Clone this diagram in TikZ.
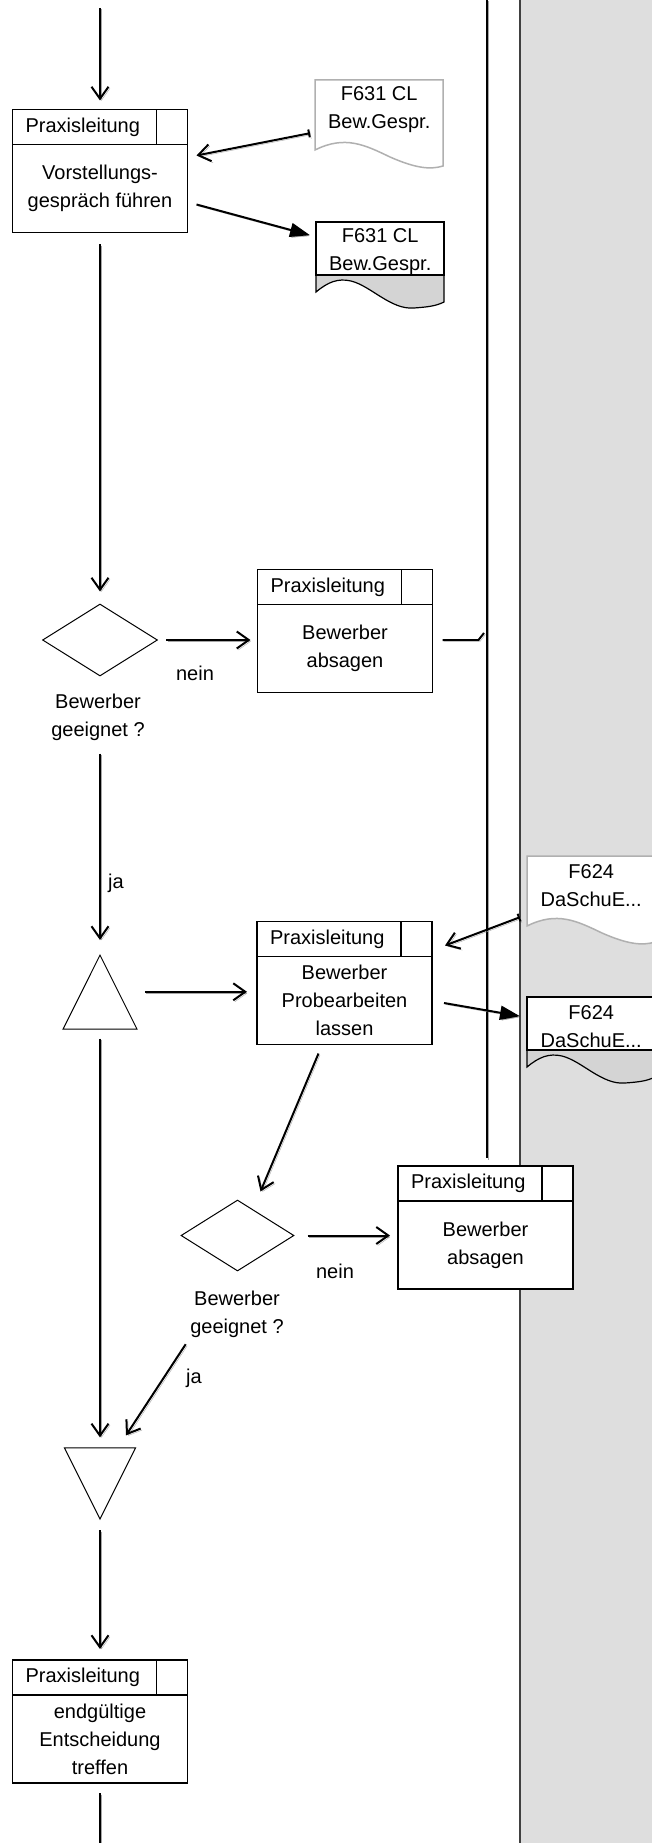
\documentclass[tikz,border=0pt]{standalone}
\usepackage{fontspec}
\setmainfont{Liberation Sans}
\usetikzlibrary{shapes.geometric,arrows.meta,calc}
\definecolor{lanegrey}{HTML}{DEDEDE}
\definecolor{docgrey}{HTML}{D4D4D4}
\definecolor{docline}{HTML}{B0B0B0}

\begin{document}
\begin{tikzpicture}[x=1pt,y=-1pt]
	\tikzset{every node/.style={font=\fontsize{20pt}{28pt}\selectfont,inner sep=0pt,align=center}}
	\tikzset{taskbody/.style={draw,line width=1.2pt,fill=white,outer sep=0pt,minimum width=175pt,minimum height=88pt}}
	\tikzset{taskhead/.style={draw,line width=1.2pt,fill=white,outer sep=0pt,anchor=south west,minimum height=35pt,text width=118pt,inner xsep=13pt,align=left}}
	\tikzset{taskcell/.style={draw,line width=1.2pt,fill=white,outer sep=0pt,anchor=south west,minimum height=35pt,minimum width=31pt}}
	\tikzset{decision/.style={draw,line width=1pt,diamond,minimum width=115pt,minimum height=72pt}}
	\tikzset{merge/.style={draw,line width=1pt,isosceles triangle,isosceles triangle apex angle=53.13,anchor=apex}}
	\tikzset{docnode/.style={anchor=north west,minimum width=128pt,minimum height=58pt}}
	\tikzset{flow/.style={line width=2pt,preaction={draw=black!35,transform canvas={shift={(1.5pt,-1.5pt)}}}}}
	\tikzset{>={Straight Barb[length=12pt,width=17pt]}}
	%\tikzset{docshadow/.style={draw=black!20}}
	\tikzset{docin/.pic={\draw[draw=docline,fill=white,line width=1.5pt] (0,0) -- (128,0) -- (128,86) .. controls (115,90) and (100,88) .. (75,77) .. controls (50,65) and (30,55) .. (0,70) -- cycle;}}
	\tikzset{docout/.pic={\draw[fill=docgrey,line width=1.2pt] (0,53) -- (0,70) .. controls (12,60) and (22,56) .. (35,59) .. controls (55,64) and (75,88) .. (98,86) .. controls (112,85) and (120,84) .. (128,80) -- (128,53) -- cycle;
		\draw[fill=white,line width=1.2pt] (0,0) rectangle (128,53);}}
	\useasboundingbox (0,0) rectangle (652,1843);

	% lane
	\fill[lanegrey] (520,0) rectangle (652,1843);
	\draw[line width=1.5pt,black!75] (520,0) -- (520,1843);
	\coordinate (lanetop) at (487,0);
	\coordinate (laneend) at (487,1158);
	\coordinate (lanejoin) at (484,633);
	\draw[flow,line width=2.4pt] (lanetop) -- (laneend);

	% documents
	\pic at (315,80) {docin};
	\pic at (316,222) {docout};
	\pic at (527,856) {docin};
	\pic at (527,997) {docout};
	\node[docnode] (f1) at (315,80) {F631 CL\\Bew.Gespr.};
	\node[docnode] (f2) at (316,222) {F631 CL\\Bew.Gespr.};
	\node[docnode] (f3) at (527,856) {F624\\DaSchuE...};
	\node[docnode] (f4) at (527,997) {F624\\DaSchuE...};

	% tasks
	\node[taskbody] (t1) at (100,188.5) {Vorstellungs-\\gespräch führen};
	\node[taskhead] (t1h) at (t1.north west) {Praxisleitung};
	\node[taskcell] (t1c) at (t1h.south east) {};
	\node[taskbody] (t2) at (345,648.5) {Bewerber\\absagen};
	\node[taskhead] (t2h) at (t2.north west) {Praxisleitung};
	\node[taskcell] (t2c) at (t2h.south east) {};
	\node[taskbody] (t3) at (344.5,1000.5) {Bewerber\\Probearbeiten\\lassen};
	\node[taskhead] (t3h) at (t3.north west) {Praxisleitung};
	\node[taskcell] (t3c) at (t3h.south east) {};
	\node[taskbody] (t4) at (485.5,1245) {Bewerber\\absagen};
	\node[taskhead] (t4h) at (t4.north west) {Praxisleitung};
	\node[taskcell] (t4c) at (t4h.south east) {};
	\node[taskbody] (t5) at (100,1739) {endgültige\\Entscheidung\\treffen};
	\node[taskhead] (t5h) at (t5.north west) {Praxisleitung};
	\node[taskcell] (t5c) at (t5h.south east) {};

	% decisions and merges
	\node[decision] (d1) at (100,640) {};
	\node (d1l) at (98,717) {Bewerber\\geeignet ?};
	\node[decision,minimum width=113pt,minimum height=71pt] (d2) at (237.5,1235.5) {};
	\node (d2l) at (237,1314) {Bewerber\\geeignet ?};
	\node[merge,shape border rotate=90,minimum width=74pt,minimum height=74pt] (tu) at (100,954) {};
	\node[merge,shape border rotate=270,minimum width=71pt,minimum height=71pt] (td) at (100,1520) {};
	\node (n1) at (195,673) {nein};
	\node (n2) at (335,1271) {nein};
	\node (j1) at (116,883) {ja};
	\node (j2) at (194,1378) {ja};
	\coordinate (in1) at (100,8);
	\coordinate (out1) at (100,1843);

	% connectors
	\draw[flow,->,shorten >=9pt] (in1) -- (in1 |- t1h.north);
	\draw[flow,{Bar[width=8pt]}->] ($(f1.west)+(-5,24)$) -- ($(t1c.south east)+(9,11)$);
	\draw[flow,-{Triangle[length=20pt,width=14pt]}] ($(t1.east)+(9,16)$) -- ($(f2.west)+(-6,-16)$);
	\draw[flow,->,shorten <=12pt,shorten >=12pt] (t1) -- (d1);
	\draw[flow,->,shorten <=8pt,shorten >=7pt] (d1) -- (d1 -| t2.west);
	\draw[flow,shorten <=10pt] (d1 -| t2.east) -- ++(46,0) -- (lanejoin);
	\draw[flow,->,shorten <=13pt,shorten >=14pt] (tu.apex |- d1l.south) -- (tu.apex);
	\draw[flow,->,shorten <=26pt,shorten >=10pt] (tu.right side) -- (tu.right side -| t3.west);
	\draw[flow,{Bar[width=8pt]}->] ($(f3.west)+(-7,32)$) -- ($(t3c.north east)+(13,24)$);
	\draw[flow,-{Triangle[length=20pt,width=14pt]}] ($(t3.east)+(12,2.5)$) -- ($(f4.west)+(-7,-10)$);
	\draw[flow,->] ($(t3.south)+(-26,9)$) -- ($(d2.north)+(23,-8)$);
	\draw[flow,->,shorten <=13pt,shorten >=8pt] (d2) -- (d2 -| t4.west);
	\draw[flow,->,shorten <=9pt,shorten >=10pt] (tu.lower side) -- (td.lower side);
	\draw[flow,->,shorten <=8pt] (d2l.south west) -- ($(td.lower side)+(26,-12)$);
	\draw[flow,->,shorten <=10pt,shorten >=11pt] (td.apex) -- (td.apex |- t5h.north);
	\draw[flow,shorten <=10pt] (t5) -- (out1);
\end{tikzpicture}
\end{document}
